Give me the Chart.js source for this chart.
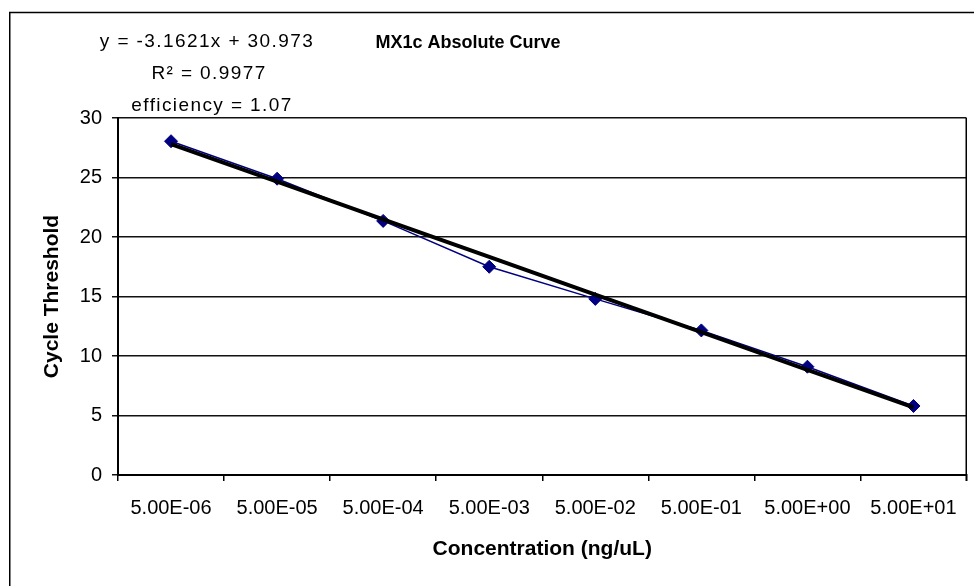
<!DOCTYPE html>
<html>
<head>
<meta charset="utf-8">
<script src="https://cdn.jsdelivr.net/npm/chart.js@4/dist/chart.umd.min.js"></script>
<style>
  html, body { margin: 0; padding: 0; background: #ffffff; }
  #wrap { width: 974px; height: 586px; }
</style>
</head>
<body>
<div id="wrap"><canvas id="curve" width="974" height="586"></canvas></div>
<script>
// Standard curve: serial dilutions vs. measured cycle threshold
const concentrations = ['5.00E-06', '5.00E-05', '5.00E-04', '5.00E-03', '5.00E-02', '5.00E-01', '5.00E+00', '5.00E+01'];
const cycleThreshold = [28.05, 24.9, 21.35, 17.5, 14.8, 12.15, 9.1, 5.8];
const yTicks = [0, 5, 10, 15, 20, 25, 30];

// Linear fit reported for the curve
const slope = -3.1621;
const intercept = 30.973;
const rSquared = 0.9977;
const efficiency = 1.07;

// Fitted line evaluated at each category position (1..n)
const fitLine = concentrations.map((_, i) => slope * (i + 1) + intercept);

const FONT = '"Liberation Sans", Arial, Helvetica, sans-serif';

const frame = {
  id: 'frame',
  beforeDraw(chart) {
    const ctx = chart.ctx;
    ctx.save();
    ctx.fillStyle = '#ffffff';
    ctx.fillRect(0, 0, chart.width, chart.height);
    ctx.strokeStyle = '#000000';
    ctx.lineWidth = 1.5;
    ctx.strokeRect(9.75, 12.5, chart.width + 20, chart.height + 20);
    ctx.restore();
  },
  afterDraw(chart) {
    const ctx = chart.ctx;
    const a = chart.chartArea;
    ctx.save();
    // right edge of the plot area
    ctx.strokeStyle = '#000000';
    ctx.lineWidth = 1.5;
    ctx.beginPath();
    ctx.moveTo(Math.round(a.right) - 0.75, a.top);
    ctx.lineTo(Math.round(a.right) - 0.75, a.bottom + 6);
    ctx.stroke();

    ctx.fillStyle = '#000000';
    ctx.textAlign = 'center';
    ctx.textBaseline = 'middle';

    // chart title
    ctx.font = 'bold 18px ' + FONT;
    ctx.fillText('MX1c Absolute Curve', 468, 43);

    // fit statistics
    ctx.font = '19px ' + FONT;
    ctx.letterSpacing = '1.4px';
    const sign = intercept >= 0 ? '+' : '-';
    ctx.fillText('y = ' + slope.toFixed(4) + 'x ' + sign + ' ' + Math.abs(intercept).toFixed(3), 207, 42);
    ctx.fillText('R\u00B2 = ' + rSquared.toFixed(4), 209, 74);
    ctx.fillText('efficiency = ' + efficiency.toFixed(2), 212, 106);
    ctx.restore();
  }
};

new Chart(document.getElementById('curve'), {
  type: 'line',
  data: {
    labels: concentrations,
    datasets: [
      {
        label: 'Linear fit',
        data: fitLine,
        borderColor: '#000000',
        borderWidth: 4,
        pointRadius: 0,
        fill: false,
        tension: 0
      },
      {
        label: 'Cycle Threshold',
        data: cycleThreshold,
        borderColor: '#000080',
        backgroundColor: '#000080',
        borderWidth: 1.5,
        pointStyle: 'rectRot',
        pointRadius: 6.5,
        pointBorderWidth: 1,
        pointBackgroundColor: '#000080',
        pointBorderColor: '#000080',
        fill: false,
        tension: 0
      }
    ]
  },
  options: {
    responsive: false,
    devicePixelRatio: 1,
    animation: false,
    layout: { padding: { top: 118, right: 2, left: 0, bottom: 0 } },
    plugins: {
      legend: { display: false },
      tooltip: { enabled: false },
      title: { display: false }
    },
    scales: {
      x: {
        type: 'category',
        offset: true,
        afterFit(scale) { scale.height = 111; },
        grid: {
          offset: true,
          drawOnChartArea: false,
          drawTicks: true,
          tickLength: 6,
          color: '#000000',
          lineWidth: 1.5
        },
        border: { display: true, color: '#000000', width: 2 },
        ticks: {
          color: '#000000',
          font: { family: FONT, size: 20 },
          padding: 15,
          maxRotation: 0,
          autoSkip: false
        },
        title: {
          display: true,
          text: 'Concentration (ng/uL)',
          color: '#000000',
          font: { family: FONT, size: 21, weight: 'bold' },
          padding: { top: 0, bottom: 24 }
        }
      },
      y: {
        min: 0,
        max: 30,
        afterFit(scale) { scale.width = 118; },
        afterBuildTicks(scale) { scale.ticks = yTicks.map(v => ({ value: v })); },
        grid: {
          color: '#111111',
          lineWidth: 1.5,
          drawTicks: true,
          tickLength: 6
        },
        border: { display: true, color: '#000000', width: 2 },
        ticks: {
          color: '#000000',
          font: { family: FONT, size: 20 },
          padding: 10
        },
        title: {
          display: true,
          text: 'Cycle Threshold',
          color: '#000000',
          font: { family: FONT, size: 21, weight: 'bold' },
          padding: { top: 40, bottom: 0 }
        }
      }
    }
  },
  plugins: [frame]
});
</script>
</body>
</html>
